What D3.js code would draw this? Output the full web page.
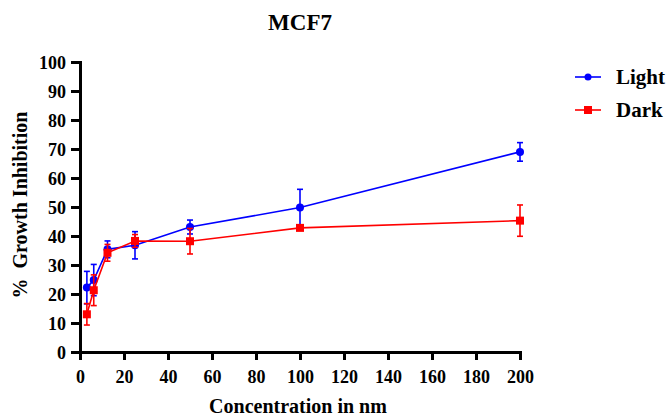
<!DOCTYPE html>
<html>
<head>
<meta charset="utf-8">
<script src="https://cdn.jsdelivr.net/npm/d3@7"></script>
<style>
  html, body { margin: 0; padding: 0; background: #fff; }
  svg { display: block; }
</style>
</head>
<body>
<svg id="chart" width="668" height="418"></svg>
<script>
// Concentrations (nM) and mean % growth inhibition with SD
const concentrations = [3.125, 6.25, 12.5, 25, 50, 100, 200];
const lightMean = [22.2, 24.8, 35.4, 36.8, 43.1, 49.8, 69.0];
const lightErr  = [5.6, 5.4, 2.9, 4.7, 2.4, 6.3, 3.2];
const darkMean  = [13.0, 21.3, 34.2, 38.3, 38.2, 42.8, 45.3];
const darkErr   = [3.7, 5.3, 2.9, 2.2, 4.4, 0.8, 5.4];
const xTicks = [0, 20, 40, 60, 80, 100, 120, 140, 160, 180, 200];
const yTicks = [0, 10, 20, 30, 40, 50, 60, 70, 80, 90, 100];

const series = [
  { name: "Light", color: "#0000ff", mean: lightMean, err: lightErr, marker: "circle" },
  { name: "Dark",  color: "#ff0000", mean: darkMean,  err: darkErr,  marker: "square" }
];

const FONT = '"Liberation Serif", "Times New Roman", serif';
const svg = d3.select("#chart");
const x = d3.scaleLinear().domain([0, 200]).range([80, 520]);
const y = d3.scaleLinear().domain([0, 100]).range([352, 62]);

function styleText(sel, size) {
  return sel.style("font-family", FONT).style("font-weight", "bold")
    .style("font-size", size + "px").style("fill", "#000");
}

// Axes
const xAxis = svg.append("g").attr("transform", `translate(0,${y(0)})`)
  .call(d3.axisBottom(x).tickValues(xTicks).tickSize(8).tickPadding(10).tickSizeOuter(0));
const yAxis = svg.append("g").attr("transform", `translate(${x(0)},0)`)
  .call(d3.axisLeft(y).tickValues(yTicks).tickSize(9).tickPadding(5).tickSizeOuter(0));
[xAxis, yAxis].forEach(ax => {
  ax.select(".domain").attr("stroke", "#000").attr("stroke-width", 3).attr("stroke-linecap", "square");
  ax.selectAll(".tick line").attr("stroke", "#000").attr("stroke-width", 3);
  styleText(ax.selectAll(".tick text"), 18);
});
yAxis.selectAll(".tick text").attr("dy", "0.35em");

// Series: lines, error bars, markers
series.forEach(s => {
  const pts = concentrations.map((c, i) => ({ c, m: s.mean[i], e: s.err[i] }));
  const g = svg.append("g");
  g.append("path").datum(pts)
    .attr("fill", "none").attr("stroke", s.color).attr("stroke-width", 1.6)
    .attr("d", d3.line().x(d => x(d.c)).y(d => y(d.m)));
  const eb = g.selectAll(".eb").data(pts).enter().append("g").attr("stroke", s.color).attr("stroke-width", 1.6);
  eb.append("line").attr("x1", d => x(d.c)).attr("x2", d => x(d.c))
    .attr("y1", d => y(d.m - d.e)).attr("y2", d => y(d.m + d.e));
  eb.append("line").attr("x1", d => x(d.c) - 3).attr("x2", d => x(d.c) + 3)
    .attr("y1", d => y(d.m + d.e)).attr("y2", d => y(d.m + d.e));
  eb.append("line").attr("x1", d => x(d.c) - 3).attr("x2", d => x(d.c) + 3)
    .attr("y1", d => y(d.m - d.e)).attr("y2", d => y(d.m - d.e));
  if (s.marker === "circle") {
    g.selectAll(".mk").data(pts).enter().append("circle")
      .attr("cx", d => x(d.c)).attr("cy", d => y(d.m)).attr("r", 4).attr("fill", s.color);
  } else {
    g.selectAll(".mk").data(pts).enter().append("rect")
      .attr("x", d => x(d.c) - 4).attr("y", d => y(d.m) - 4).attr("width", 8).attr("height", 8).attr("fill", s.color);
  }
});

// Legend
const legend = svg.append("g");
series.forEach((s, i) => {
  const ly = 77 + i * 33;
  legend.append("line").attr("x1", 575).attr("x2", 601).attr("y1", ly).attr("y2", ly)
    .attr("stroke", s.color).attr("stroke-width", 1.6);
  if (s.marker === "circle") {
    legend.append("circle").attr("cx", 588).attr("cy", ly).attr("r", 3.5).attr("fill", s.color);
  } else {
    legend.append("rect").attr("x", 584).attr("y", ly - 4).attr("width", 8).attr("height", 8).attr("fill", s.color);
  }
  styleText(legend.append("text").attr("x", 616).attr("y", ly).attr("dy", "0.35em"), 21).text(s.name);
});

// Titles
styleText(svg.append("text").attr("x", 300).attr("y", 30).attr("text-anchor", "middle"), 23).text("MCF7");
styleText(svg.append("text").attr("x", 298).attr("y", 413).attr("text-anchor", "middle"), 20).text("Concentration in nm");
styleText(svg.append("text").attr("transform", "translate(27,205) rotate(-90)").attr("text-anchor", "middle"), 20)
  .style("white-space", "pre").text("%  Growth Inhibition");
</script>
</body>
</html>
